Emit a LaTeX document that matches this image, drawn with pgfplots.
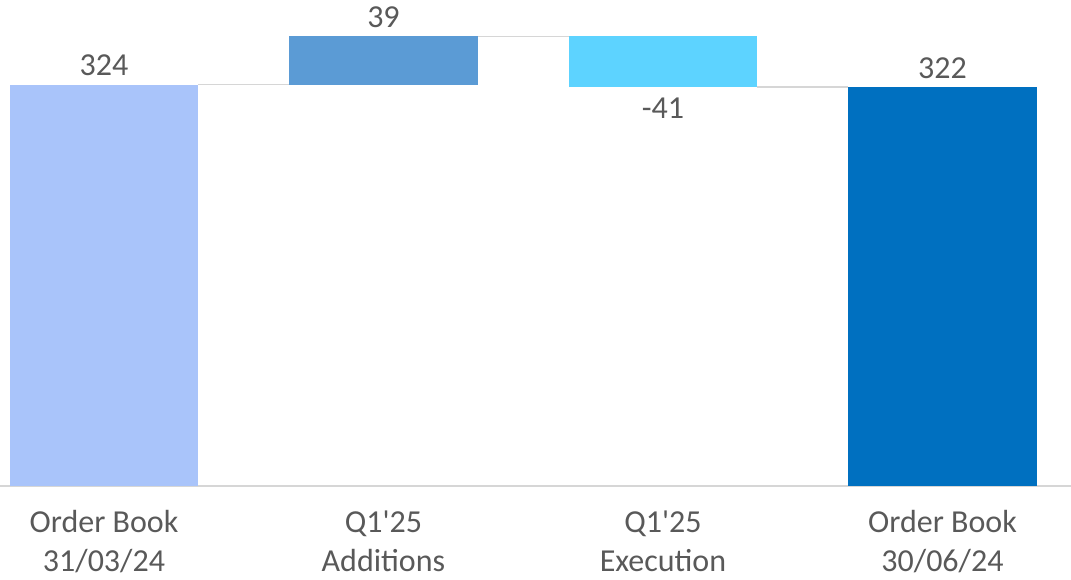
\documentclass[border=0pt]{standalone}
\usepackage{pgfplots}
\pgfplotsset{compat=1.18}
\usepackage{pgfplotstable}
\usepackage{fontspec}
\setmainfont{Carlito}
\usetikzlibrary{calc}

\definecolor{openbar}{RGB}{169,196,250}
\definecolor{addbar}{RGB}{91,155,213}
\definecolor{execbar}{RGB}{93,211,255}
\definecolor{closebar}{RGB}{0,112,192}
\definecolor{linegray}{RGB}{214,214,214}
\definecolor{txtgray}{RGB}{89,89,89}

% Waterfall: invisible base + one visible segment per step
\pgfplotstableread{
x base open add exec close
0 0   324  0  0  0
1 324 0    39 0  0
2 322 0    0  41 0
3 0   0    0  0  322
}\waterfall

\begin{document}
\begin{tikzpicture}
\begin{axis}[
  scale only axis,
  width=1071pt, height=486pt,
  xmin=-0.372, xmax=3.46,
  ymin=0, ymax=392.3,
  ybar stacked,
  bar width=0.673,
  axis x line*=bottom,
  axis y line=none,
  x axis line style={draw=linegray, line width=1.6pt, -},
  xtick={0,1,2,3},
  xticklabels={{\strut Order Book\\31/03/24},{\strut Q1\textquotesingle25\\Additions},{\strut Q1\textquotesingle25\\Execution},{\strut Order Book\\30/06/24}},
  major tick length=0pt,
  xtick style={draw=none},
  xticklabel style={align=center, text=txtgray, font=\fontsize{32}{39}\selectfont, yshift=-16pt},
  clip=false,
]
\addplot[draw=none, fill=none] table[x=x, y=base] {\waterfall};
\addplot[draw=none, fill=openbar] table[x=x, y=open] {\waterfall};
\addplot[draw=none, fill=addbar] table[x=x, y=add] {\waterfall};
\addplot[draw=none, fill=execbar] table[x=x, y=exec] {\waterfall};
\addplot[draw=none, fill=closebar] table[x=x, y=close] {\waterfall};

% connectors between steps
\addplot[stack plots=false, sharp plot, no markers, draw=linegray, line width=1.5pt] coordinates {(0.3365,324) (0.6635,324)};
\addplot[stack plots=false, sharp plot, no markers, draw=linegray, line width=1.5pt] coordinates {(1.3365,363) (1.6635,363)};
\addplot[stack plots=false, sharp plot, no markers, draw=linegray, line width=1.5pt] coordinates {(2.3365,322) (2.6635,322)};
\addplot[stack plots=false, sharp plot, no markers, draw=orange, line width=0.8pt] coordinates {(1.6635,322) (1.6635,363)};

% value labels
\node[anchor=base, inner sep=0pt, text=txtgray, font=\fontsize{32}{37}\selectfont, yshift=9pt] at (axis cs:0,324) {324};
\node[anchor=base, inner sep=0pt, text=txtgray, font=\fontsize{32}{37}\selectfont, yshift=8.5pt] at (axis cs:1,363) {39};
\node[anchor=north, inner sep=0pt, text=txtgray, font=\fontsize{32}{37}\selectfont, yshift=-11pt] at (axis cs:2,322) {-41};
\node[anchor=base, inner sep=0pt, text=txtgray, font=\fontsize{32}{37}\selectfont, yshift=8.5pt] at (axis cs:3,322) {322};

\coordinate (tl) at (rel axis cs:0,1);
\end{axis}
\pgfresetboundingbox
\path[use as bounding box] (tl) rectangle ($(tl)+(1071pt,-580pt)$);
\end{tikzpicture}
\end{document}
